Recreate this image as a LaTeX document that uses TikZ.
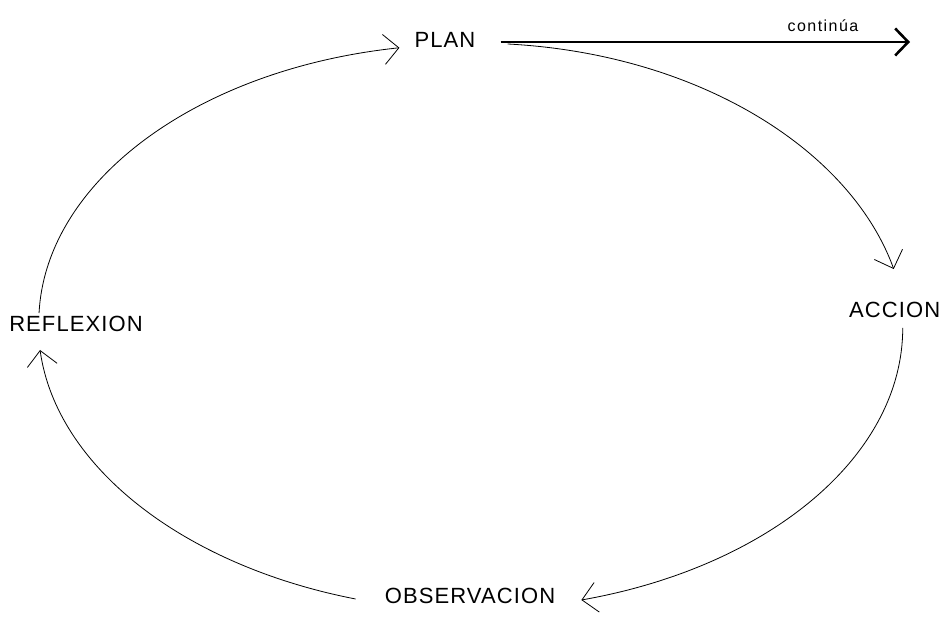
\documentclass[tikz,border=0pt]{standalone}
\usepackage{fontspec}
\setmainfont{Liberation Sans}
\newfontfamily\cadfont[LetterSpace=5]{Liberation Sans}
\newfontfamily\cadsmall[LetterSpace=9]{Liberation Sans}
\usetikzlibrary{arrows.meta}

\begin{document}
\begin{tikzpicture}[x=1pt, y=1pt, >={Straight Barb[length=15pt,width=30pt]}]

  % ---------- Styling ----------
  \tikzset{
    stage/.style={font=\cadfont\fontsize{22}{22}\selectfont, inner sep=0pt},
    loopline/.style={draw=black, line width=0.8pt, ->},
    exitline/.style={draw=black, line width=2.6pt, -{Straight Barb[length=13pt,width=27pt]}},
    notestyle/.style={font=\cadsmall\fontsize{16}{16}\selectfont, inner sep=0pt}
  }

  \useasboundingbox (0,0) rectangle (941,617);

  % ---------- Stages ----------
  \node[stage] (plan) at (445,577) {PLAN};
  \node[stage, anchor=west] (accion) at (849,307) {ACCION};
  \node[stage] (observacion) at (470,21) {OBSERVACION};
  \node[stage] (reflexion) at (76,293) {REFLEXION};

  % ---------- The cycle ----------
  \draw[loopline] ([xshift=32pt,yshift=-4pt]plan.east)
    to[out=-3, in=110, out distance=190pt, in distance=128pt] ([xshift=-1pt,yshift=33pt]accion.north);
  \draw[loopline] ([xshift=8pt,yshift=-10pt]accion.south)
    to[out=-90, in=10, out distance=128pt, in distance=191pt] ([xshift=26pt,yshift=-4pt]observacion.east);
  \draw[loopline] ([xshift=-29pt,yshift=-3pt]observacion.west)
    to[out=169, in=-82, out distance=175pt, in distance=118pt] ([xshift=31pt,yshift=-18pt]reflexion.south west);
  \draw[loopline] ([xshift=30pt,yshift=3pt]reflexion.north west)
    to[out=87, in=186, out distance=133pt, in distance=202pt] ([xshift=-15pt]plan.south west);

  % ---------- Way out ----------
  \coordinate (cont) at (910,575);
  \draw[exitline] ([xshift=25pt,yshift=-2pt]plan.east) -- (cont);
  \node[notestyle, anchor=base] (contlabel) at (823,585) {continúa};

\end{tikzpicture}
\end{document}
